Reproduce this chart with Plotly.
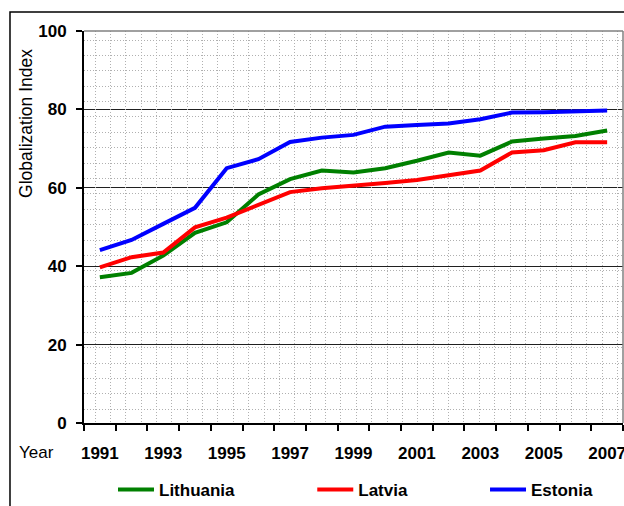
import plotly.graph_objects as go

years = list(range(1991, 2008))
tick_years = list(range(1991, 2008, 2))
lithuania = [37.2, 38.3, 42.7, 48.5, 51.2, 58.3, 62.2, 64.4, 63.9, 65.0, 66.9, 69.0, 68.2, 71.8, 72.6, 73.2, 74.6]
latvia = [39.7, 42.3, 43.5, 49.9, 52.4, 55.6, 58.9, 59.9, 60.5, 61.2, 62.0, 63.1, 64.4, 69.0, 69.6, 71.6, 71.6]
estonia = [44.1, 46.7, 50.8, 54.9, 65.0, 67.3, 71.7, 72.8, 73.5, 75.6, 76.0, 76.4, 77.5, 79.2, 79.3, 79.4, 79.7]
y_ticks = [0, 20, 40, 60, 80, 100]

FONT = "Liberation Sans, Arial, sans-serif"
XR = [1990.5, 2007.5]

fig = go.Figure()
series = [("Lithuania", lithuania, "#008000", "legend"),
          ("Latvia", latvia, "#FF0000", "legend2"),
          ("Estonia", estonia, "#0000FF", "legend3")]
for name, vals, col, lg in series:
    fig.add_trace(go.Scatter(x=years, y=vals, name=name, mode="lines",
                             line=dict(color=col, width=4), legend=lg))

# dummy trace for the dotted vertical grid axis
fig.add_trace(go.Scatter(x=[None], y=[None], xaxis="x2", showlegend=False,
                         hoverinfo="skip"))

dot = dict(gridcolor="#b0b0b0", griddash="1px,2px", gridwidth=1)
legfont = dict(family=FONT, size=17, color="black", weight="bold")

fig.update_layout(
    width=624, height=506,
    margin=dict(l=84, r=1, t=31, b=83, autoexpand=False),
    paper_bgcolor="white", plot_bgcolor="white",
    font=dict(family=FONT, size=17, color="black"),
    showlegend=True,
    xaxis=dict(
        range=XR, tickmode="array", tickvals=tick_years,
        ticktext=[str(y) for y in tick_years],
        ticks="", showgrid=False, zeroline=False, automargin=False,
        showline=True, linecolor="black", linewidth=1.5,
        tickfont=dict(family=FONT, size=17, color="black", weight="bold"),
        ticklabelstandoff=14, ticklabeloverflow="allow",
        minor=dict(tick0=1990.5, dtick=1, ticks="outside", ticklen=6,
                   tickcolor="black", tickwidth=1.5, showgrid=False),
    ),
    xaxis2=dict(
        range=XR, overlaying="x", anchor="y", side="bottom", automargin=False,
        tickmode="linear", tick0=1990.847, dtick=0.4848,
        showgrid=True, showticklabels=False, ticks="", showline=False,
        zeroline=False, **dot,
    ),
    yaxis=dict(
        range=[0, 100], tickmode="array", tickvals=y_ticks,
        ticks="outside", ticklen=6, tickcolor="black", tickwidth=1.5,
        showgrid=True, gridcolor="#202020", gridwidth=1, automargin=False,
        zeroline=False, showline=True, linecolor="black", linewidth=2,
        tickfont=dict(family=FONT, size=17, color="black", weight="bold"),
        ticklabelstandoff=6, ticklabeloverflow="allow",
        minor=dict(tick0=3.5, dtick=3.925, showgrid=True, ticks="", **dot),
    ),
    legend=dict(orientation="h", x=0.0538, y=-0.171, xanchor="left", yanchor="middle",
                font=legfont, bgcolor="rgba(0,0,0,0)", itemwidth=36),
    legend2=dict(orientation="h", x=0.4235, y=-0.171, xanchor="left", yanchor="middle",
                 font=legfont, bgcolor="rgba(0,0,0,0)", itemwidth=36),
    legend3=dict(orientation="h", x=0.744, y=-0.171, xanchor="left", yanchor="middle",
                 font=legfont, bgcolor="rgba(0,0,0,0)", itemwidth=36),
    annotations=[
        dict(text="Globalization Index", textangle=-90, xref="paper", yref="paper",
             x=-0.1076, y=0.763, xanchor="center", yanchor="middle", showarrow=False,
             font=dict(family=FONT, size=17.5, color="black")),
        dict(text="Year", xref="paper", yref="paper", x=-0.1243, y=-0.074,
             xanchor="left", yanchor="middle", showarrow=False,
             font=dict(family=FONT, size=17, color="black")),
    ],
    shapes=[
        dict(type="line", xref="paper", yref="paper", x0=0, x1=1, y0=1, y1=1,
             line=dict(color="#808080", width=1.5), layer="above"),
        dict(type="line", xref="paper", yref="paper", x0=1, x1=1, y0=0, y1=1,
             line=dict(color="#808080", width=1.5), layer="above"),
        dict(type="rect", xref="paper", yref="paper", x0=-0.1373, x1=1.05,
             y0=-0.4, y1=1.0485, line=dict(color="black", width=1.5),
             fillcolor="rgba(0,0,0,0)", layer="above"),
    ],
)

fig.write_html("out.html", config={"displayModeBar": False},
               post_script="document.body.style.margin='0';document.body.style.overflow='hidden';")
